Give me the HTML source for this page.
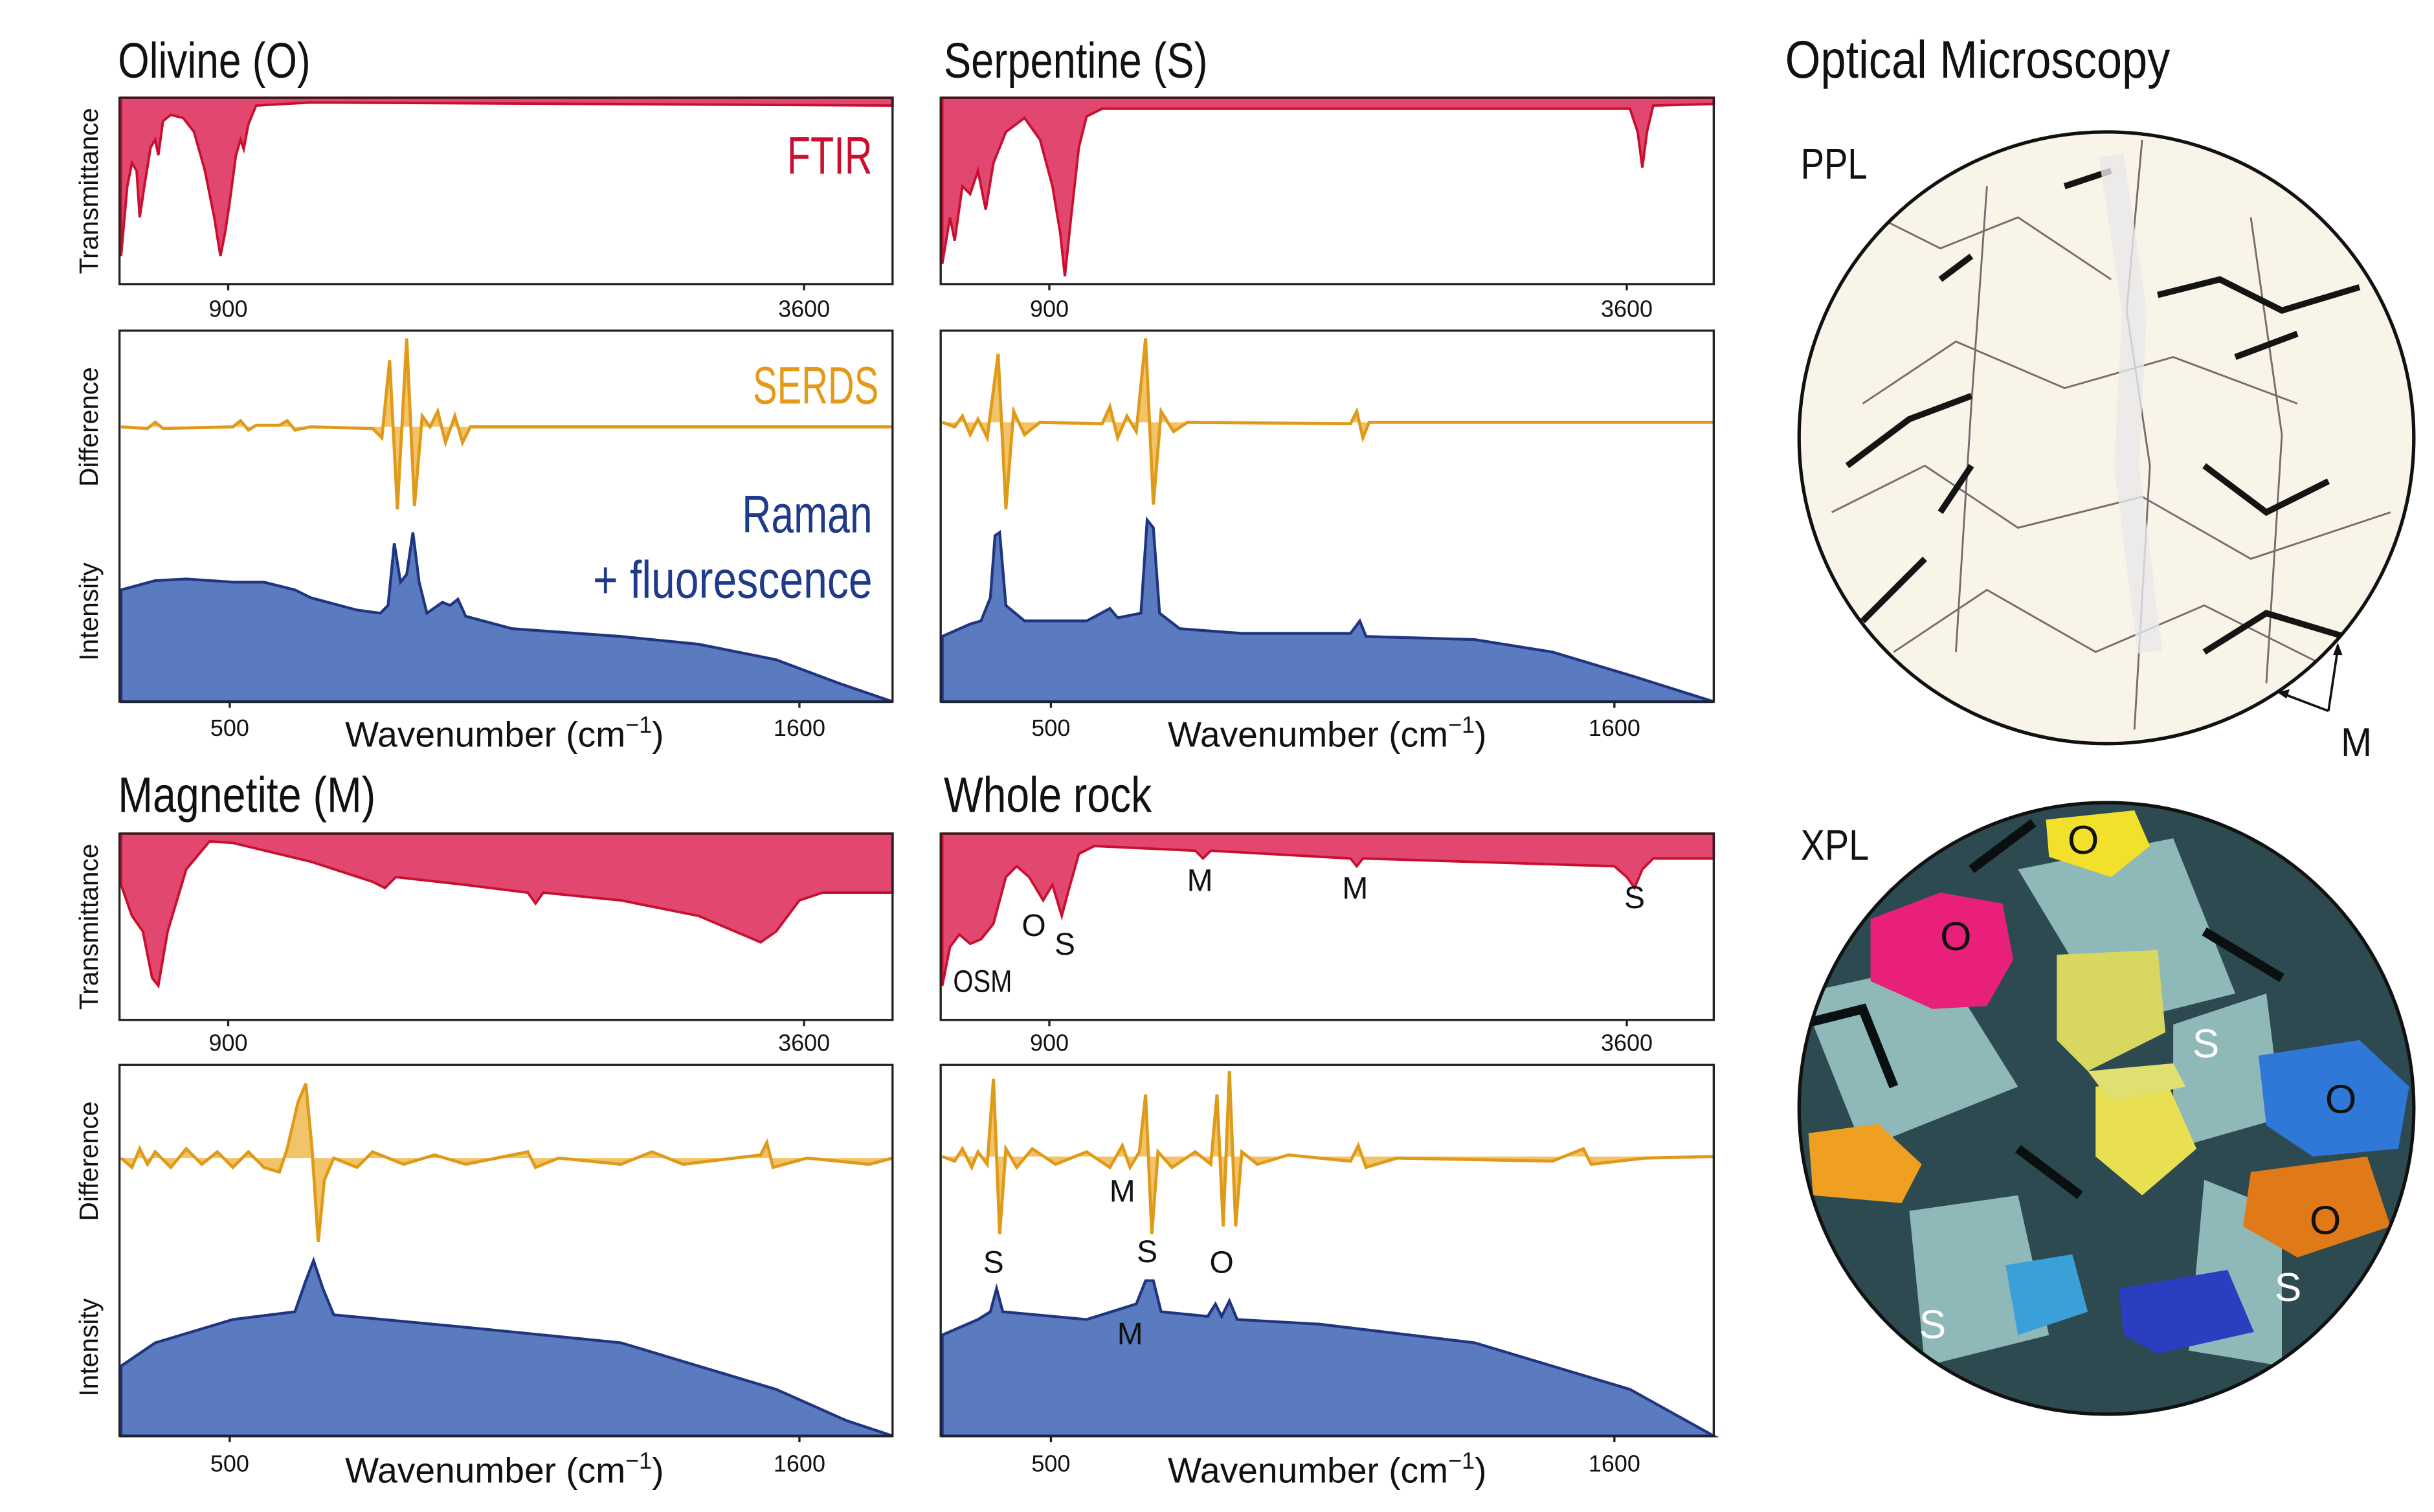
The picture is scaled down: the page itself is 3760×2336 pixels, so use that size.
<!DOCTYPE html>
<html><head><meta charset="utf-8"><style>
html,body{margin:0;padding:0;background:#fff;}
svg{display:block;}
.t{font-family:"Liberation Sans Narrow","Liberation Sans",sans-serif;}
.s{font-family:"Liberation Sans","DejaVu Sans",sans-serif;}
</style></head><body>
<svg width="3760" height="2336" viewBox="0 0 1568 974" preserveAspectRatio="none" xmlns="http://www.w3.org/2000/svg">
<rect width="1568" height="974" fill="#fff"/>
<defs>
<clipPath id="c1"><ellipse cx="1357" cy="282" rx="198" ry="197"/></clipPath>
<clipPath id="c2"><ellipse cx="1357" cy="714" rx="198" ry="197"/></clipPath>
</defs>
<g class="t" font-size="32" fill="#111">
<text x="76" y="50" textLength="124" lengthAdjust="spacingAndGlyphs">Olivine (O)</text>
<text x="608" y="50" textLength="170" lengthAdjust="spacingAndGlyphs">Serpentine (S)</text>
<text x="76" y="523" textLength="166" lengthAdjust="spacingAndGlyphs">Magnetite (M)</text>
<text x="608" y="523" textLength="134" lengthAdjust="spacingAndGlyphs">Whole rock</text>
<text x="1150" y="50" font-size="34" textLength="248" lengthAdjust="spacingAndGlyphs">Optical Microscopy</text>
</g>
<!-- FTIR fills -->
<g fill="#e2476f" stroke="#c8102e" stroke-width="1.6">
<path d="M78,63 L78,165 82,120 85,105 88,110 90,140 93,120 97,95 100,90 102,100 105,78 110,74 118,76 125,85 132,110 138,140 142,165 145,150 148,130 152,100 155,90 157,96 160,80 165,68 200,66 575,68 575,63Z"/>
<path d="M607,63 L607,170 612,140 615,155 620,120 625,125 630,110 635,135 640,105 648,85 660,76 670,90 678,120 683,150 686,178 690,140 695,95 700,75 710,70 1050,70 1055,85 1058,108 1061,85 1065,68 1104,67 1104,63Z"/>
<path d="M78,537 L78,570 85,590 92,600 98,630 102,635 108,600 120,560 135,542 150,543 200,555 240,568 248,572 255,565 300,570 340,575 345,582 350,575 400,580 450,590 490,607 500,600 515,580 530,575 575,575 575,537Z"/>
<path d="M607,537 L607,635 612,610 618,602 625,608 632,605 640,595 648,565 655,558 663,565 672,580 678,570 684,590 688,575 695,550 705,545 770,548 775,553 780,548 870,553 874,558 878,553 1040,558 1048,565 1053,572 1058,560 1065,553 1104,553 1104,537Z"/>
</g>
<!-- SERDS -->
<g fill="#f2c46a" stroke="#e09a1a" stroke-width="2">
<path d="M78,275 L95,276 100,272 105,276 150,275 155,271 160,277 165,274 180,274 185,271 190,277 200,275 240,276 246,282 251,232 256,328 262,218 267,326 272,268 277,275 282,265 287,285 293,268 298,285 303,275 575,275"/>
<path d="M607,272 L615,275 620,268 625,280 630,270 636,282 643,228 648,328 653,265 660,280 670,272 710,273 715,262 720,282 726,268 732,278 738,218 743,325 748,265 756,278 765,272 870,273 874,265 878,282 882,272 1104,272"/>
<path d="M78,746 L85,752 90,740 95,750 100,742 110,752 120,740 130,750 140,742 150,752 160,742 170,752 180,755 185,740 192,710 197,698 201,740 205,800 209,760 215,746 230,752 240,742 260,750 280,744 300,750 340,742 345,752 360,746 400,750 420,742 440,750 490,744 494,736 498,752 520,746 560,750 575,746"/>
<path d="M607,745 L615,748 620,740 626,752 630,742 636,750 640,695 644,795 648,740 655,752 665,740 680,750 700,742 715,752 723,738 728,752 734,742 738,705 742,795 746,742 755,752 770,742 780,750 784,705 788,790 792,690 796,790 800,742 810,750 830,744 870,748 875,738 880,752 900,746 1000,748 1020,740 1025,750 1060,746 1104,745"/>
</g>
<!-- Raman -->
<g fill="#5b7bc0" stroke="#1f3580" stroke-width="1.8">
<path d="M78,452 L78,380 100,374 120,373 150,375 170,375 190,380 200,385 230,393 245,395 250,390 254,350 258,375 262,370 266,343 270,375 275,395 285,388 290,390 295,386 300,397 330,405 400,410 450,415 500,425 540,440 575,452Z"/>
<path d="M607,452 L607,410 625,402 632,400 638,385 641,345 644,343 648,390 660,400 700,400 715,392 720,398 735,395 739,335 743,340 747,395 760,405 800,408 870,408 876,400 880,410 950,412 1000,420 1050,435 1104,452Z"/>
<path d="M78,925 L78,880 100,865 150,850 190,845 197,825 202,812 208,830 215,847 300,855 400,865 450,880 500,895 545,915 575,925Z"/>
<path d="M607,925 L607,860 630,850 638,845 642,830 646,845 700,850 732,840 738,825 743,825 748,845 778,848 783,840 787,848 792,838 797,850 850,853 950,865 1000,880 1050,895 1104,925Z"/>
</g>
<!-- boxes -->
<g fill="none" stroke="#222" stroke-width="1.4">
<rect x="77" y="63" width="498" height="120"/><rect x="606" y="63" width="498" height="120"/>
<rect x="77" y="213" width="498" height="239"/><rect x="606" y="213" width="498" height="239"/>
<rect x="77" y="537" width="498" height="120"/><rect x="606" y="537" width="498" height="120"/>
<rect x="77" y="686" width="498" height="239"/><rect x="606" y="686" width="498" height="239"/>
<path d="M147,183v4M518,183v4M676,183v4M1048,183v4M147,657v4M518,657v4M676,657v4M1048,657v4M148,452v4M515,452v4M677,452v4M1040,452v4M148,925v4M515,925v4M677,925v4M1040,925v4"/>
</g>
<g class="s" font-size="15" fill="#111" text-anchor="middle">
<text x="147" y="204">900</text><text x="518" y="204">3600</text><text x="676" y="204">900</text><text x="1048" y="204">3600</text>
<text x="147" y="677">900</text><text x="518" y="677">3600</text><text x="676" y="677">900</text><text x="1048" y="677">3600</text>
<text x="148" y="474">500</text><text x="515" y="474">1600</text><text x="677" y="474">500</text><text x="1040" y="474">1600</text>
<text x="148" y="948">500</text><text x="515" y="948">1600</text><text x="677" y="948">500</text><text x="1040" y="948">1600</text>
<g font-size="23"><text x="325" y="481">Wavenumber (cm<tspan dy="-9" font-size="15">−1</tspan><tspan dy="9">)</tspan></text>
<text x="855" y="481">Wavenumber (cm<tspan dy="-9" font-size="15">−1</tspan><tspan dy="9">)</tspan></text>
<text x="325" y="955">Wavenumber (cm<tspan dy="-9" font-size="15">−1</tspan><tspan dy="9">)</tspan></text>
<text x="855" y="955">Wavenumber (cm<tspan dy="-9" font-size="15">−1</tspan><tspan dy="9">)</tspan></text></g>
<g font-size="17">
<text transform="translate(63,123) rotate(-90)">Transmittance</text>
<text transform="translate(63,275) rotate(-90)">Difference</text>
<text transform="translate(63,394) rotate(-90)">Intensity</text>
<text transform="translate(63,597) rotate(-90)">Transmittance</text>
<text transform="translate(63,748) rotate(-90)">Difference</text>
<text transform="translate(63,868) rotate(-90)">Intensity</text>
</g></g>
<g class="t" font-size="34" lengthAdjust="spacingAndGlyphs">
<text x="507" y="112" fill="#c8102e" textLength="55" lengthAdjust="spacingAndGlyphs">FTIR</text>
<text x="485" y="260" fill="#e39a1a" textLength="81" lengthAdjust="spacingAndGlyphs">SERDS</text>
<text x="478" y="343" fill="#1f3a8a" textLength="84" lengthAdjust="spacingAndGlyphs">Raman</text>
<text x="382" y="385" fill="#1f3a8a" textLength="180" lengthAdjust="spacingAndGlyphs">+ fluorescence</text>
</g>
<g class="t" font-size="20" fill="#111" text-anchor="middle">
<text x="633" y="639" textLength="38" lengthAdjust="spacingAndGlyphs">OSM</text><text x="666" y="603">O</text><text x="686" y="615">S</text>
<text x="773" y="574">M</text><text x="873" y="579">M</text><text x="1053" y="585">S</text>
<text x="640" y="820">S</text><text x="723" y="774">M</text><text x="739" y="813">S</text>
<text x="787" y="820">O</text><text x="728" y="866">M</text>
</g>
<!-- PPL -->
<g clip-path="url(#c1)">
<rect x="1150" y="80" width="420" height="410" fill="#f8f4e8"/>
<path d="M1170,120 L1250,160 1300,140 1360,180 M1200,260 L1260,220 1330,250 1400,230 1480,260 M1180,330 L1240,300 1300,340 1380,320 1450,360 1540,330 M1220,420 L1280,380 1350,420 1420,390 1500,430 M1380,90 L1370,200 1385,300 1375,470 M1280,120 L1270,260 1260,420 M1450,140 L1470,280 1460,440" stroke="#7a6a70" stroke-width="1.2" fill="none"/>
<path d="M1390,190 L1430,180 1470,200 1520,185 M1190,300 L1230,270 1270,255 M1420,300 L1460,330 1500,310 M1250,330 L1270,300 M1420,420 L1460,395 1510,410 1540,440 M1200,400 L1240,360 M1330,120 L1360,110 M1440,230 L1480,215 M1250,180 L1270,165" stroke="#141414" stroke-width="4" fill="none"/>
<path d="M1360,100 L1375,200 1370,300 1385,420" stroke="#e8e8ea" stroke-width="16" fill="none" opacity=".8"/>
</g>
<ellipse cx="1357" cy="282" rx="198" ry="197" fill="none" stroke="#111" stroke-width="2.2"/>
<!-- XPL -->
<g clip-path="url(#c2)">
<rect x="1150" y="510" width="420" height="410" fill="#2d4a50"/>
<path d="M1160,640 L1250,620 1300,700 1200,740Z M1300,560 L1400,540 1440,640 1360,660Z M1400,660 L1460,640 1470,720 1400,740Z M1230,780 L1300,770 1320,860 1240,880Z M1420,760 L1470,780 1470,880 1410,870Z" fill="#8fb8b8"/>
<path d="M1205,592 L1250,575 1290,582 1297,618 1280,648 1245,650 1205,632Z" fill="#e8207a"/>
<path d="M1318,528 L1375,522 1385,545 1360,565 1320,552Z" fill="#f2e02a"/>
<path d="M1325,615 L1390,612 1395,665 1345,690 1325,670Z" fill="#d8d860"/>
<path d="M1350,700 L1395,695 1415,740 1380,770 1350,745Z" fill="#e8e050"/>
<path d="M1345,690 L1400,685 1408,700 1360,710Z" fill="#e0e070"/>
<path d="M1455,680 L1520,670 1552,700 1545,740 1490,745 1460,725Z" fill="#2f78d8"/>
<path d="M1450,755 L1525,745 1540,790 1480,810 1445,790Z" fill="#e07a18"/>
<path d="M1165,730 L1210,724 1238,750 1225,775 1168,770Z" fill="#f0a020"/>
<path d="M1292,815 L1335,808 1345,845 1300,860Z" fill="#3aa0d8"/>
<path d="M1365,830 L1435,818 1452,858 1390,872 1368,860Z" fill="#2a3fc0"/>
<path d="M1160,660 L1200,650 1220,700 M1270,560 L1310,530 M1420,600 L1470,630 M1300,740 L1340,770" stroke="#0a1010" stroke-width="6" fill="none"/>
</g>
<ellipse cx="1357" cy="714" rx="198" ry="197" fill="none" stroke="#111" stroke-width="2.2"/>
<g class="t" font-size="28" fill="#111">
<text x="1160" y="115" textLength="43" lengthAdjust="spacingAndGlyphs">PPL</text><text x="1160" y="554" textLength="44" lengthAdjust="spacingAndGlyphs">XPL</text>
<text x="1508" y="487" font-size="26" textLength="20" lengthAdjust="spacingAndGlyphs">M</text>
</g>
<path d="M1500,458 L1506,418 M1500,458 L1471,447" stroke="#111" stroke-width="1.5"/>
<path d="M1506,414 l-3,8 l6,0Z M1467,446 l8,-2 l-2,6Z" fill="#111"/>
<g class="t" font-size="26" text-anchor="middle">
<text x="1342" y="550" fill="#111">O</text><text x="1260" y="612" fill="#111">O</text>
<text x="1508" y="717" fill="#111">O</text><text x="1498" y="795" fill="#111">O</text>
<text x="1421" y="681" fill="#fff">S</text><text x="1474" y="838" fill="#fff">S</text><text x="1245" y="862" fill="#fff">S</text>
</g>
</svg>
</body></html>
